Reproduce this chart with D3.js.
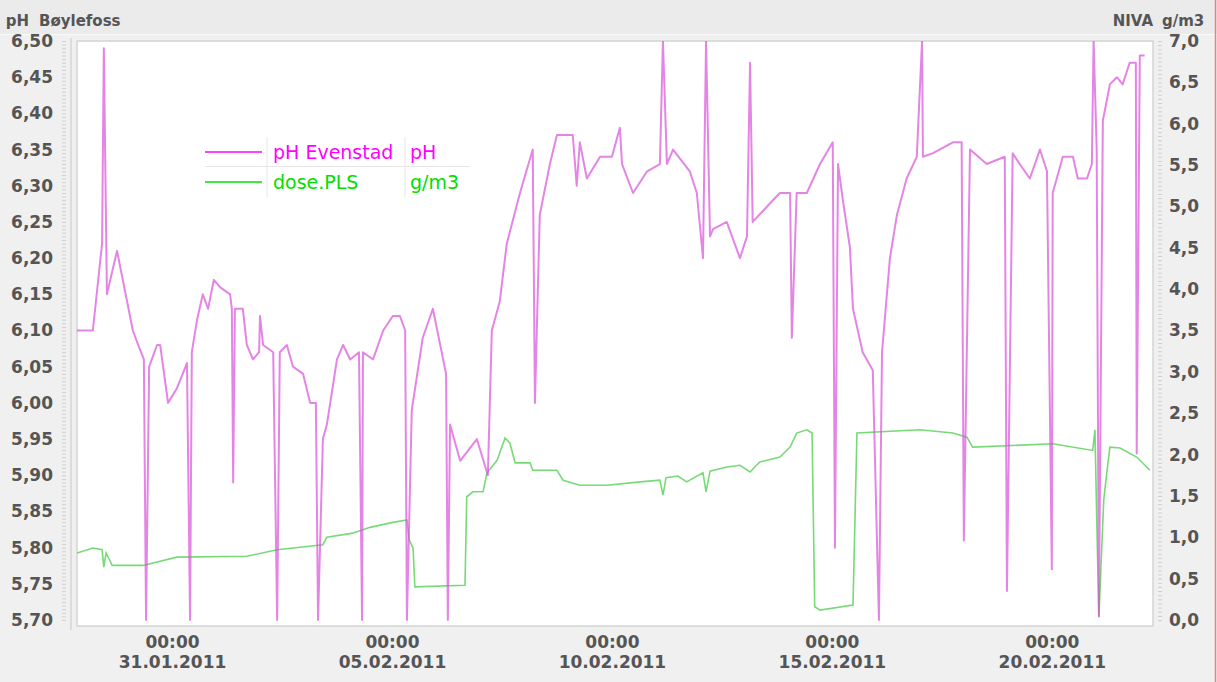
<!DOCTYPE html>
<html>
<head>
<meta charset="utf-8">
<script src="https://cdn.jsdelivr.net/npm/d3@7"></script>
<style>
body { margin: 0; background: #f0f0f0; }
svg { display: block; font-family: "DejaVu Sans", sans-serif; }
</style>
</head>
<body>
<svg id="chart" width="1217" height="682"></svg>
<script>
// time is in days from 31.01.2011 00:00
var phData = [
  [-2.16,6.10],[-1.80,6.10],[-1.59,6.22],[-1.55,6.49],[-1.48,6.15],[-1.25,6.21],[-0.89,6.10],[-0.77,6.08],
  [-0.64,6.06],[-0.59,5.70],[-0.52,6.05],[-0.34,6.08],[-0.27,6.08],[-0.09,6.00],[0.11,6.02],[0.34,6.055],
  [0.41,5.70],[0.45,6.07],[0.57,6.115],[0.70,6.15],[0.82,6.13],[0.95,6.17],[1.09,6.16],[1.32,6.15],
  [1.36,6.13],[1.39,5.89],[1.43,6.13],[1.61,6.13],[1.70,6.08],[1.84,6.06],[1.98,6.07],[2.00,6.12],
  [2.07,6.08],[2.30,6.07],[2.39,5.70],[2.45,6.07],[2.61,6.08],[2.75,6.05],[2.98,6.04],[3.14,6.00],
  [3.27,6.00],[3.32,5.70],[3.43,5.95],[3.52,5.97],[3.75,6.06],[3.89,6.08],[4.05,6.06],[4.25,6.07],
  [4.32,5.70],[4.34,6.07],[4.57,6.06],[4.80,6.10],[5.02,6.12],[5.18,6.12],[5.30,6.10],[5.34,5.70],
  [5.45,5.99],[5.70,6.09],[5.93,6.13],[6.23,6.04],[6.27,5.70],[6.32,5.97],[6.55,5.92],[6.93,5.95],
  [7.18,5.90],[7.27,6.10],[7.45,6.14],[7.61,6.22],[7.91,6.29],[8.20,6.35],[8.25,6.00],[8.36,6.26],
  [8.59,6.33],[8.75,6.37],[9.11,6.37],[9.20,6.30],[9.27,6.36],[9.43,6.31],[9.73,6.34],[10.0,6.34],
  [10.18,6.38],[10.23,6.33],[10.48,6.29],[10.80,6.32],[11.09,6.33],[11.16,6.50],[11.25,6.33],[11.39,6.35],
  [11.77,6.32],[11.93,6.29],[12.07,6.20],[12.14,6.50],[12.23,6.23],[12.30,6.24],[12.61,6.25],[12.91,6.20],
  [13.07,6.23],[13.14,6.47],[13.20,6.25],[13.66,6.28],[13.82,6.29],[14.05,6.29],[14.09,6.09],[14.20,6.29],
  [14.43,6.29],[14.73,6.33],[15.02,6.36],[15.07,5.80],[15.14,6.33],[15.25,6.28],[15.41,6.215],[15.48,6.13],
  [15.70,6.07],[15.93,6.045],[16.07,5.70],[16.14,6.07],[16.32,6.20],[16.48,6.26],[16.70,6.31],[16.93,6.34],
  [17.05,6.50],[17.07,6.34],[17.30,6.345],[17.75,6.36],[17.95,6.36],[18.0,5.81],[18.14,6.35],[18.52,6.33],
  [18.93,6.34],[18.98,5.74],[19.11,6.345],[19.27,6.33],[19.50,6.31],[19.73,6.35],[19.89,6.32],[20.0,5.77],
  [20.02,6.29],[20.25,6.34],[20.48,6.34],[20.59,6.31],[20.80,6.31],[20.91,6.33],[20.95,6.50],[21.02,6.35],
  [21.07,5.705],[21.16,6.39],[21.32,6.44],[21.48,6.45],[21.61,6.44],[21.77,6.47],[21.91,6.47],[21.93,5.93],
  [22.0,6.48],[22.11,6.48]
];

var doseData = [
  [-2.16,0.81],[-1.80,0.87],[-1.59,0.85],[-1.55,0.64],[-1.50,0.81],[-1.36,0.66],[-0.66,0.66],[0.11,0.76],
  [1.70,0.77],[2.39,0.85],[3.43,0.91],[3.52,1.00],[4.11,1.05],[4.50,1.12],[5.02,1.18],[5.34,1.21],
  [5.39,0.97],[5.48,0.87],[5.52,0.40],[6.66,0.42],[6.70,1.49],[6.84,1.55],[7.07,1.55],[7.16,1.78],
  [7.39,1.93],[7.57,2.20],[7.68,2.14],[7.80,1.90],[8.14,1.90],[8.20,1.81],[8.75,1.81],[8.89,1.69],
  [9.27,1.63],[9.89,1.63],[10.64,1.67],[11.09,1.69],[11.16,1.51],[11.23,1.72],[11.50,1.74],[11.70,1.67],
  [12.07,1.78],[12.14,1.55],[12.23,1.80],[12.61,1.85],[12.91,1.87],[13.14,1.79],[13.36,1.91],[13.82,1.97],
  [14.05,2.09],[14.20,2.26],[14.43,2.30],[14.55,2.26],[14.61,0.16],[14.73,0.12],[15.48,0.18],[15.57,2.26],
  [17.0,2.30],[17.75,2.26],[18.07,2.21],[18.20,2.09],[20.02,2.13],[20.93,2.05],[20.98,2.30],[21.02,1.24],
  [21.07,0.04],[21.18,1.45],[21.25,1.78],[21.32,2.09],[21.55,2.08],[21.93,1.97],[22.23,1.81]
];

var phTicks = [6.50,6.45,6.40,6.35,6.30,6.25,6.20,6.15,6.10,6.05,6.00,5.95,5.90,5.85,5.80,5.75,5.70];
var doseTicks = [7.0,6.5,6.0,5.5,5.0,4.5,4.0,3.5,3.0,2.5,2.0,1.5,1.0,0.5,0.0];
var dateTicks = ["31.01.2011","05.02.2011","10.02.2011","15.02.2011","20.02.2011"];
var legendRows = [
  { name: "pH Evenstad", unit: "pH", color: "#ff00ff" },
  { name: "dose.PLS", unit: "g/m3", color: "#00e000" }
];

var base = new Date(2011, 0, 31);
function toDate(d) { return new Date(base.getTime() + d * 864e5); }
var parseDay = d3.timeParse("%d.%m.%Y");
var comma = function(f) { return function(v) { return d3.format(f)(v).replace(".", ","); }; };

var pL = 77, pR = 1153, pT = 41, pB = 620;
var labelColor = "#555";
var svg = d3.select("#chart");

var x = d3.scaleTime().domain([toDate(-2.16), toDate(22.30)]).range([pL, pR]);
var yPh = d3.scaleLinear().domain([5.70, 6.50]).range([pB, pT]);
var yDose = d3.scaleLinear().domain([0, 7]).range([pB, pT]);

// frame
svg.append("rect").attr("x", 0).attr("y", 0).attr("width", 1217).attr("height", 34).attr("fill", "#ebebeb");
svg.append("line").attr("x1", 0).attr("x2", 1217).attr("y1", 34.5).attr("y2", 34.5).attr("stroke", "#fafafa");
svg.append("line").attr("x1", 71).attr("x2", 71).attr("y1", 38).attr("y2", 630).attr("stroke", "#dcdcdc").attr("stroke-width", 2);
svg.append("rect").attr("x", pL).attr("y", pT).attr("width", pR - pL).attr("height", pB + 6 - pT)
  .attr("fill", "#fff").attr("stroke", "#d4d4d4").attr("stroke-width", 1.5);
svg.append("line").attr("x1", 1215.5).attr("x2", 1215.5).attr("y1", 0).attr("y2", 682)
  .attr("stroke", "#f08080").attr("stroke-width", 1.5);

svg.append("clipPath").attr("id", "clip").append("rect")
  .attr("x", pL).attr("y", pT).attr("width", pR - pL).attr("height", pB + 4 - pT);

// minor tick texture on both axes
svg.append("g").attr("transform", "translate(66,0)")
  .call(d3.axisLeft(yPh).tickValues(d3.range(5.70, 6.5001, 0.005)).tickSize(4).tickFormat(""))
  .call(g => g.select(".domain").remove())
  .call(g => g.selectAll("line").attr("stroke", "#cfcfcf"));
svg.append("g").attr("transform", "translate(1158,0)")
  .call(d3.axisRight(yDose).tickValues(d3.range(0, 7.001, 0.05)).tickSize(4).tickFormat(""))
  .call(g => g.select(".domain").remove())
  .call(g => g.selectAll("line").attr("stroke", "#cfcfcf"));

// axes labels
var yl = svg.append("g").attr("transform", "translate(56,0)")
  .call(d3.axisLeft(yPh).tickValues(phTicks).tickSize(0).tickFormat(comma(".2f")));
yl.select(".domain").remove();
yl.selectAll("text").attr("font-size", 17).attr("font-weight", "bold").attr("fill", labelColor)
  .attr("font-family", "DejaVu Sans");

var yr = svg.append("g").attr("transform", "translate(1166,0)")
  .call(d3.axisRight(yDose).tickValues(doseTicks).tickSize(0).tickFormat(comma(".1f")));
yr.select(".domain").remove();
yr.selectAll("text").attr("font-size", 17).attr("font-weight", "bold").attr("fill", labelColor)
  .attr("font-family", "DejaVu Sans");

var xa = svg.append("g").attr("transform", "translate(0," + (pB + 6) + ")")
  .call(d3.axisBottom(x).tickValues(dateTicks.map(parseDay)).tickSize(0).tickFormat(""));
xa.select(".domain").remove();
xa.selectAll(".tick").each(function(d) {
  var t = d3.select(this).append("text").attr("fill", labelColor).attr("font-size", 17)
    .attr("font-weight", "bold").attr("font-family", "DejaVu Sans").attr("text-anchor", "middle");
  t.append("tspan").attr("x", 0).attr("y", 22).text(d3.timeFormat("%H:%M")(d));
  t.append("tspan").attr("x", 0).attr("y", 42).text(d3.timeFormat("%d.%m.%Y")(d));
});

svg.append("text").attr("x", 29).attr("y", 26).attr("text-anchor", "end").attr("font-size", 15)
  .attr("font-weight", "bold").attr("fill", labelColor).text("pH");
svg.append("text").attr("x", 39).attr("y", 26).attr("font-size", 15)
  .attr("font-weight", "bold").attr("fill", labelColor).text("Bøylefoss");
svg.append("text").attr("x", 1153).attr("y", 26).attr("text-anchor", "end").attr("font-size", 15)
  .attr("font-weight", "bold").attr("fill", labelColor).text("NIVA");
svg.append("text").attr("x", 1162).attr("y", 26).attr("font-size", 15)
  .attr("font-weight", "bold").attr("fill", labelColor).text("g/m3");

// series
var plot = svg.append("g").attr("clip-path", "url(#clip)");
plot.append("path").datum(doseData)
  .attr("fill", "none").attr("stroke", "#5ed45e").attr("stroke-width", 1.6).attr("stroke-opacity", 0.85)
  .attr("d", d3.line().x(d => x(toDate(d[0]))).y(d => yDose(d[1])));
plot.append("path").datum(phData)
  .attr("fill", "none").attr("stroke", "#d850d8").attr("stroke-width", 2).attr("stroke-opacity", 0.7)
  .attr("stroke-linejoin", "round")
  .attr("d", d3.line().x(d => x(toDate(d[0]))).y(d => yPh(d[1])));

// legend table
var lg = svg.append("g");
[267, 405].forEach(function(vx) {
  lg.append("line").attr("x1", vx).attr("x2", vx).attr("y1", 137).attr("y2", 197).attr("stroke", "#e6e6e6");
});
lg.append("line").attr("x1", 205).attr("x2", 470).attr("y1", 166.5).attr("y2", 166.5).attr("stroke", "#e6e6e6");
legendRows.forEach(function(r, i) {
  var cy = 152 + i * 30;
  lg.append("line").attr("x1", 205).attr("x2", 262).attr("y1", cy).attr("y2", cy)
    .attr("stroke", r.color).attr("stroke-width", 1.5);
  lg.append("text").attr("x", 273).attr("y", cy + 7).attr("font-size", 19).attr("fill", r.color).text(r.name);
  lg.append("text").attr("x", 410).attr("y", cy + 7).attr("font-size", 19).attr("fill", r.color).text(r.unit);
});
</script>
</body>
</html>
